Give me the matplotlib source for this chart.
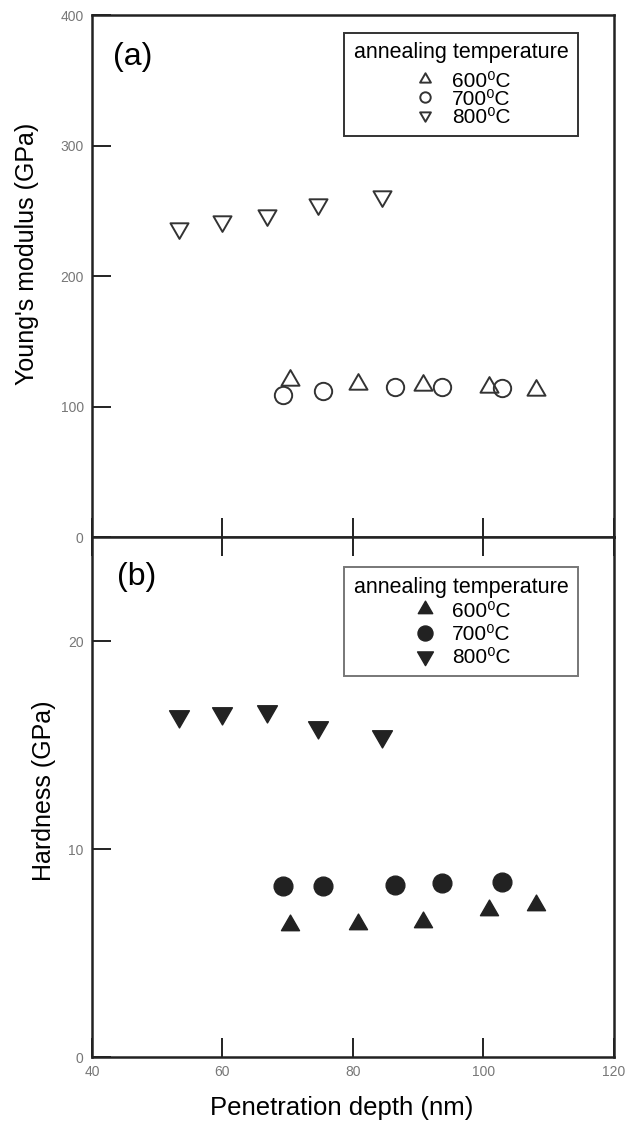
import numpy as np
import matplotlib
matplotlib.use("Agg")
import matplotlib.pyplot as plt
from matplotlib.path import Path

plt.rcParams["font.family"] = ["Liberation Sans", "DejaVu Sans"]

# penetration depth (nm)
depth_600 = [70.3, 80.7, 90.7, 100.8, 108.1]
depth_700 = [69.2, 75.4, 86.4, 93.6, 102.8]
depth_800 = [53.3, 60.0, 66.9, 74.7, 84.5]

# Young's modulus (GPa)
modulus_600 = [120, 117, 116.5, 115, 112.5]
modulus_700 = [109, 112, 115, 115, 114]
modulus_800 = [237, 242, 247, 255, 261]

# Hardness (GPa)
hardness_600 = [6.35, 6.4, 6.5, 7.05, 7.3]
hardness_700 = [8.2, 8.2, 8.25, 8.35, 8.4]
hardness_800 = [16.4, 16.55, 16.65, 15.85, 15.45]

labels = ["600\u2070C", "700\u2070C", "800\u2070C"]


def triangle(sign):
    # equilateral triangle marker, closed path
    v = [(-1, -0.577 * sign), (1, -0.577 * sign), (0, 1.155 * sign), (0, 0)]
    codes = [Path.MOVETO, Path.LINETO, Path.LINETO, Path.CLOSEPOLY]
    return Path(v, codes)


tri_up = triangle(1)
tri_dn = triangle(-1)

dark = "#222222"

fig = plt.figure(figsize=(6.27, 11.24), dpi=100)
ax1 = fig.add_axes([0.1467, 0.5222, 0.8325, 0.4644])
ax2 = fig.add_axes([0.1467, 0.0596, 0.8325, 0.4626])

# (a) Young's modulus, open symbols
ax1.plot(depth_600, modulus_600, ls="none", marker=tri_up, ms=15, mfc="none", mec="#333", mew=1.4, label=labels[0])
ax1.plot(depth_700, modulus_700, ls="none", marker="o", ms=12.5, mfc="none", mec="#333", mew=1.4, label=labels[1])
ax1.plot(depth_800, modulus_800, ls="none", marker=tri_dn, ms=15, mfc="none", mec="#333", mew=1.4, label=labels[2])

# (b) Hardness, filled symbols
ax2.plot(depth_600, hardness_600, ls="none", marker=tri_up, ms=15, mfc=dark, mec=dark, label=labels[0])
ax2.plot(depth_700, hardness_700, ls="none", marker="o", ms=13.5, mfc=dark, mec=dark, label=labels[1])
ax2.plot(depth_800, hardness_800, ls="none", marker=tri_dn, ms=16.5, mfc=dark, mec=dark, label=labels[2])

ax1.set_xlim(40, 120)
ax1.set_ylim(0, 400)
ax2.set_xlim(40, 120)
ax2.set_ylim(0, 25)

ax1.set_yticks([0, 100, 200, 300, 400])
ax2.set_yticks([0, 10, 20])
ax1.set_xticks([40, 60, 80, 100, 120])
ax2.set_xticks([40, 60, 80, 100, 120])

for ax in (ax1, ax2):
    for s in ax.spines.values():
        s.set_linewidth(1.8)
        s.set_color(dark)
    ax.tick_params(direction="in", length=14, width=1.4, color=dark,
                   labelsize=10, labelcolor="#777777", pad=6)

ax1.tick_params(axis="x", labelbottom=False)
ax2.tick_params(axis="x", top=True)

ax1.text(0.040, 0.904, "(a)", transform=ax1.transAxes, fontsize=23, ha="left", va="baseline")
ax2.text(0.048, 0.908, "(b)", transform=ax2.transAxes, fontsize=23, ha="left", va="baseline")

ax1.set_ylabel("Young's modulus (GPa)", fontsize=18, va="center")
ax1.yaxis.set_label_coords(-0.125, 0.542)
ax2.set_ylabel("Hardness (GPa)", fontsize=18, va="center")
ax2.yaxis.set_label_coords(-0.092, 0.512)
ax2.set_xlabel("Penetration depth (nm)", fontsize=18.5, va="center")
ax2.xaxis.set_label_coords(0.479, -0.098)

leg_style = dict(loc="upper right", title="annealing temperature", fontsize=15, title_fontsize=15.5,
                 fancybox=False, framealpha=1, handletextpad=0.7,
                 borderpad=0.45, handlelength=1.2, borderaxespad=0)
leg1 = ax1.legend(bbox_to_anchor=(0.931, 0.9655), markerscale=0.6, edgecolor="#333",
                  labelspacing=-0.05, **leg_style)
leg1.get_frame().set_linewidth(1.4)
leg1._legend_box.sep = 6.0  # gap between title and entries (points)
leg2 = ax2.legend(bbox_to_anchor=(0.931, 0.942), markerscale=0.8, edgecolor="#777",
                  labelspacing=0.2, **leg_style)
leg2.get_frame().set_linewidth(1.4)

fig.savefig("out.png", dpi=100)
